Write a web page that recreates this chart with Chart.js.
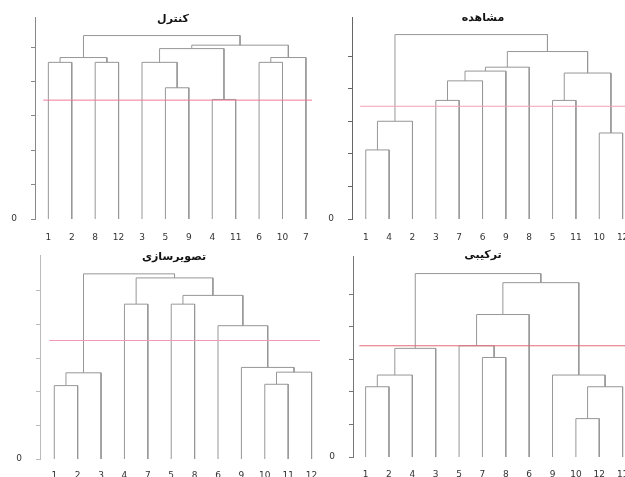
<!DOCTYPE html>
<html>
<head>
<meta charset="utf-8">
<script src="https://cdn.jsdelivr.net/npm/chart.js@4.4.0/dist/chart.umd.min.js"></script>
<style>
  html, body { margin: 0; padding: 0; background: #fff; overflow: hidden; width: 625px; height: 477px; }
  canvas { position: absolute; }
  .title { position: absolute; transform: translateX(-50%); font: bold 11px "DejaVu Sans", sans-serif; color: #111; white-space: nowrap; direction: rtl; }
</style>
</head>
<body>
<canvas id="c1" width="312" height="245" style="left:0;top:0"></canvas>
<canvas id="c2" width="330" height="245" style="left:312px;top:0"></canvas>
<canvas id="c3" width="320" height="237" style="left:0;top:240px"></canvas>
<canvas id="c4" width="330" height="237" style="left:312px;top:240px"></canvas>
<div class="title" id="t1" style="left:173px;top:12px"></div>
<div class="title" id="t2" style="left:483px;top:11px"></div>
<div class="title" id="t3" style="left:174px;top:250px"></div>
<div class="title" id="t4" style="left:483px;top:248px"></div>
<script>
// dendrogram data: leaf order + merges [left, right, height] (index >= 12 = earlier merge)
var titles = ["کنترل", "مشاهده", "تصویرسازی", "ترکیبی"];
var cutHeights = [17.3, 17.3, 17.6, 17.1];
var yTicks = [0, 5, 10, 15, 20, 25];

var leaves1 = ["1", "2", "8", "12", "3", "5", "9", "4", "11", "6", "10", "7"];
var merges1 = [[0, 1, 22.8], [2, 3, 22.8], [12, 13, 23.5], [5, 6, 19.1], [4, 15, 22.8], [7, 8, 17.4],
               [16, 17, 24.8], [9, 10, 22.8], [19, 11, 23.5], [18, 20, 25.3], [14, 21, 26.7]];

var leaves2 = ["1", "4", "2", "3", "7", "6", "9", "8", "5", "11", "10", "12"];
var merges2 = [[0, 1, 10.6], [12, 2, 15.0], [3, 4, 18.2], [14, 5, 21.2], [15, 6, 22.7], [16, 7, 23.3],
               [8, 9, 18.2], [10, 11, 13.2], [18, 19, 22.4], [17, 20, 25.7], [13, 21, 28.3]];

var leaves3 = ["1", "2", "3", "4", "7", "5", "8", "6", "9", "10", "11", "12"];
var merges3 = [[0, 1, 10.9], [12, 2, 12.8], [3, 4, 23.0], [5, 6, 23.0], [9, 10, 11.1], [16, 11, 12.9],
               [8, 17, 13.6], [7, 18, 19.8], [15, 19, 24.3], [14, 20, 26.9], [13, 21, 27.5]];

var leaves4 = ["1", "2", "4", "3", "5", "7", "8", "6", "9", "10", "12", "11"];
var merges4 = [[0, 1, 10.8], [12, 2, 12.6], [13, 3, 16.7], [5, 6, 15.3], [4, 15, 17.1], [16, 7, 21.9],
               [9, 10, 5.9], [18, 11, 10.8], [8, 19, 12.6], [17, 20, 26.8], [14, 21, 28.2]];

var panels = [
  {id: "c1", leaves: leaves1, merges: merges1, yMax: 29.4, xMin: -0.57, xMax: 11.26, cutFrom: -0.22,
   top: 17, axisW: 35, axisH: 26, labPad: 13, axisColor: "#888", cutColor: "rgb(240,120,155)"},
  {id: "c2", leaves: leaves2, merges: merges2, yMax: 31.0, xMin: -0.59, xMax: 11.83, cutFrom: -0.24,
   top: 17, axisW: 40, axisH: 26, labPad: 13, axisColor: "#666", cutColor: "#f2a0b4"},
  {id: "c3", leaves: leaves3, merges: merges3, yMax: 30.3, xMin: -0.61, xMax: 11.36, cutFrom: -0.21,
   top: 15, axisW: 40, axisH: 18, labPad: 11, axisColor: "#bbb", cutColor: "#f29ab3"},
  {id: "c4", leaves: leaves4, merges: merges4, yMax: 30.9, xMin: -0.54, xMax: 11.83, cutFrom: -0.27,
   top: 16, axisW: 41, axisH: 20, labPad: 12, axisColor: "#777", cutColor: "#e66878"}
];

function linkSets(leaves, merges) {
  var pos = leaves.map(function (l, i) { return {x: i, y: 0}; });
  var sets = [];
  merges.forEach(function (m) {
    var a = pos[m[0]], b = pos[m[1]], h = m[2];
    sets.push({
      data: [{x: a.x, y: a.y}, {x: a.x, y: h}, {x: b.x, y: h}, {x: b.x, y: b.y}],
      showLine: true, borderColor: "#979797", borderWidth: 1, pointRadius: 0, fill: false
    });
    pos.push({x: (a.x + b.x) / 2, y: h});
  });
  return sets;
}

panels.forEach(function (p, k) {
  document.getElementById("t" + (k + 1)).textContent = titles[k];
  var sets = linkSets(p.leaves, p.merges);
  // cut line, drawn on top
  sets.push({
    data: [{x: p.cutFrom, y: cutHeights[k]}, {x: p.xMax, y: cutHeights[k]}],
    showLine: true, borderColor: p.cutColor, backgroundColor: p.cutColor,
    borderWidth: 1, pointRadius: 0, fill: false, order: -1
  });

  new Chart(p.id, {
    type: "scatter",
    data: {datasets: sets},
    options: {
      responsive: false,
      animation: false,
      layout: {padding: {top: p.top, left: 0, right: 0, bottom: 0}},
      plugins: {legend: {display: false}, tooltip: {enabled: false}},
      scales: {
        x: {
          type: "linear", min: p.xMin, max: p.xMax,
          grid: {display: false, drawTicks: false}, border: {display: false},
          afterBuildTicks: function (s) { s.ticks = p.leaves.map(function (l, i) { return {value: i}; }); },
          afterFit: function (s) { s.height = p.axisH; s.paddingLeft = 0; s.paddingRight = 0; },
          ticks: {
            autoSkip: false, maxRotation: 0, padding: p.labPad, color: "#333",
            font: {size: 9, family: "DejaVu Sans"},
            callback: function (v, i) { return p.leaves[i]; }
          }
        },
        y: {
          type: "linear", min: 0, max: p.yMax,
          border: {display: true, color: p.axisColor, width: 1},
          grid: {display: true, drawOnChartArea: false, drawTicks: true, tickLength: 4, color: p.axisColor},
          afterBuildTicks: function (s) { s.ticks = yTicks.map(function (v) { return {value: v}; }); },
          afterFit: function (s) { s.width = p.axisW; s.paddingTop = 0; s.paddingBottom = 0; },
          ticks: {
            padding: 14, color: "#333", font: {size: 9, family: "DejaVu Sans"},
            callback: function (v) { return v === 0 ? "0" : ""; }
          }
        }
      }
    }
  });
});
</script>
</body>
</html>
